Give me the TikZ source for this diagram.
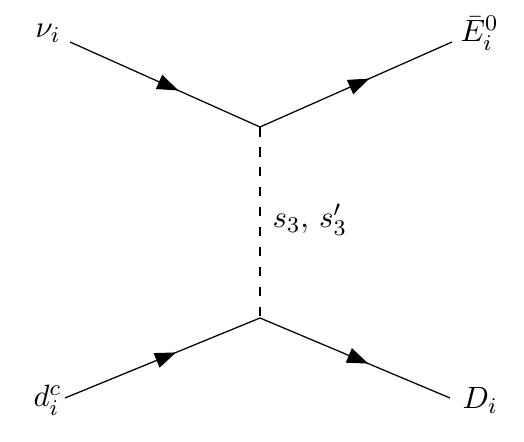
\documentclass[tikz,border=0pt]{standalone}
\usetikzlibrary{arrows.meta,decorations.markings}
\begin{document}
\begin{tikzpicture}[x=0.0125cm,y=-0.0125cm,
  fermion/.style={line width=0.45pt,postaction={decorate},
    decoration={markings,mark=at position 0.57 with {\arrow{Triangle[length=7.5pt,width=5.5pt]}}}},
  scalar/.style={line width=0.45pt,dash pattern=on 3.4pt off 3.7pt},
  lbl/.style={anchor=base west,inner sep=0pt,font=\fontsize{10.8pt}{13pt}\selectfont}]
\useasboundingbox (0,0) rectangle (524,442);
\coordinate (vt) at (260,127);
\coordinate (vb) at (260,318);
\coordinate (nu) at (70,42);
\coordinate (E) at (452,42);
\coordinate (d) at (65,398);
\coordinate (D) at (450,398);
\draw[fermion] (nu) -- (vt);
\draw[fermion] (vt) -- (E);
\draw[fermion] (d) -- (vb);
\draw[fermion] (vb) -- (D);
\draw[scalar] (vt) -- (vb);
\node[lbl] (lnu) at (35,38) {$\nu_i$};
\node[lbl] (lE) at (460,42) {$\bar{E}_i^0$};
\node[lbl] (ld) at (33,407) {$d_i^c$};
\node[lbl] (lD) at (462,409) {$D_i$};
\node[lbl] (ls) at (272,228) {$s_3,\, s_3'$};
\end{tikzpicture}
\end{document}
